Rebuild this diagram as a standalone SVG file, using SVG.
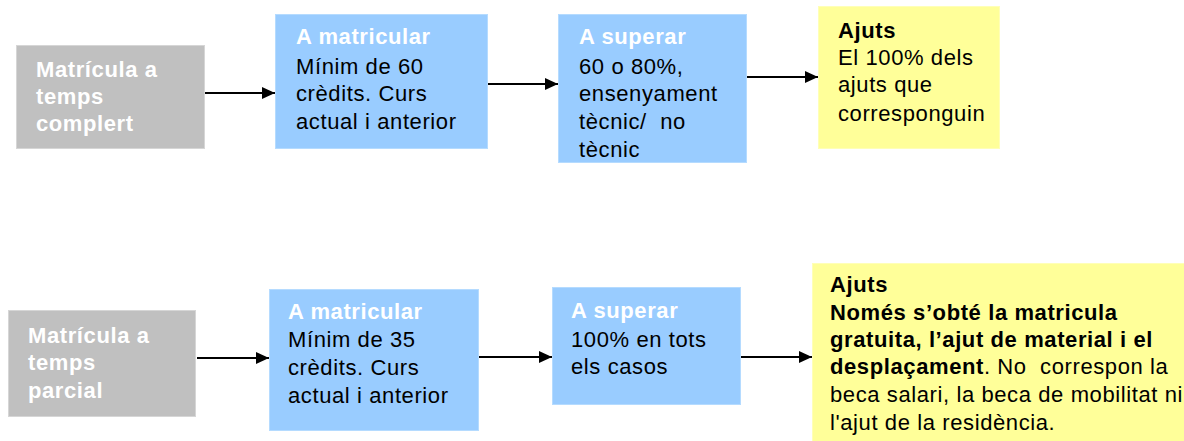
<svg xmlns="http://www.w3.org/2000/svg" width="1184" height="441" viewBox="0 0 1184 441">
<style>
text{font-family:"Liberation Sans",Arial,sans-serif;font-size:22px;letter-spacing:0.6px;white-space:pre}
.b{font-weight:bold}
.w{fill:#ffffff}
.k{fill:#000000}
.gray{fill:#c0c0c0;stroke:#d6d6d6;stroke-width:1}
.blue{fill:#99ccff;stroke:#b5dbff;stroke-width:1}
.yel{fill:#ffff99;stroke:#ffffb8;stroke-width:1}
.conn line{stroke:#000;stroke-width:2}
</style>
<defs>
<marker id="ah" markerWidth="13" markerHeight="12" refX="13" refY="6" orient="auto" markerUnits="userSpaceOnUse">
<path d="M0,0 L13,6 L0,12 Z" fill="#000"/>
</marker>
</defs>
<rect width="1184" height="441" fill="#ffffff"/>

<g id="n_full">
<rect class="gray" x="16.5" y="45.5" width="188" height="103"/>
<text class="b w" x="36" y="77">Matrícula a</text>
<text class="b w" x="36" y="104">temps</text>
<text class="b w" x="36" y="131">complert</text>
</g>
<g id="n_mat1">
<rect class="blue" x="275.5" y="14.5" width="212" height="134"/>
<text class="b w" x="296" y="44">A matricular</text>
<text class="k" x="296" y="74">Mínim de 60</text>
<text class="k" x="296" y="101">crèdits. Curs</text>
<text class="k" x="296" y="129">actual i anterior</text>
</g>
<g id="n_sup1">
<rect class="blue" x="558.5" y="14.5" width="188" height="148"/>
<text class="b w" x="579" y="44">A superar</text>
<text class="k" x="579" y="74">60 o 80%,</text>
<text class="k" x="579" y="101">ensenyament</text>
<text class="k" x="579" y="129">tècnic/  no</text>
<text class="k" x="579" y="157">tècnic</text>
</g>
<g id="n_aj1">
<rect class="yel" x="818.5" y="6.5" width="181" height="142"/>
<text class="b k" x="838" y="38">Ajuts</text>
<text class="k" x="838" y="65">El 100% dels</text>
<text class="k" x="838" y="92">ajuts que</text>
<text class="k" x="838" y="121">corresponguin</text>
</g>

<g id="n_part">
<rect class="gray" x="8.5" y="310.5" width="187" height="106"/>
<text class="b w" x="28" y="343">Matrícula a</text>
<text class="b w" x="28" y="370">temps</text>
<text class="b w" x="28" y="398">parcial</text>
</g>
<g id="n_mat2">
<rect class="blue" x="269.5" y="289.5" width="209" height="141"/>
<text class="b w" x="288" y="319">A matricular</text>
<text class="k" x="288" y="347">Mínim de 35</text>
<text class="k" x="288" y="375">crèdits. Curs</text>
<text class="k" x="288" y="403">actual i anterior</text>
</g>
<g id="n_sup2">
<rect class="blue" x="552.5" y="287.5" width="188" height="117"/>
<text class="b w" x="571" y="318">A superar</text>
<text class="k" x="571" y="347">100% en tots</text>
<text class="k" x="571" y="374">els casos</text>
</g>
<g id="n_aj2">
<rect class="yel" x="812.5" y="263.5" width="380" height="190"/>
<text class="b k" x="830" y="292">Ajuts</text>
<text class="b k" x="830" y="320">Només s’obté la matricula</text>
<text class="b k" x="830" y="347">gratuita, l’ajut de material i el</text>
<text class="k" x="830" y="374"><tspan class="b">desplaçament</tspan>. No  correspon la</text>
<text class="k" x="830" y="402">beca salari, la beca de mobilitat ni</text>
<text class="k" x="830" y="430">l'ajut de la residència.</text>
</g>

<g id="connectors" class="conn">
<line x1="205" y1="93" x2="275" y2="93" marker-end="url(#ah)"/>
<line x1="488" y1="84" x2="558" y2="84" marker-end="url(#ah)"/>
<line x1="747" y1="77" x2="818" y2="77" marker-end="url(#ah)"/>
<line x1="197" y1="358" x2="269" y2="358" marker-end="url(#ah)"/>
<line x1="479" y1="357" x2="552" y2="357" marker-end="url(#ah)"/>
<line x1="741" y1="357" x2="812" y2="357" marker-end="url(#ah)"/>
</g>
</svg>
